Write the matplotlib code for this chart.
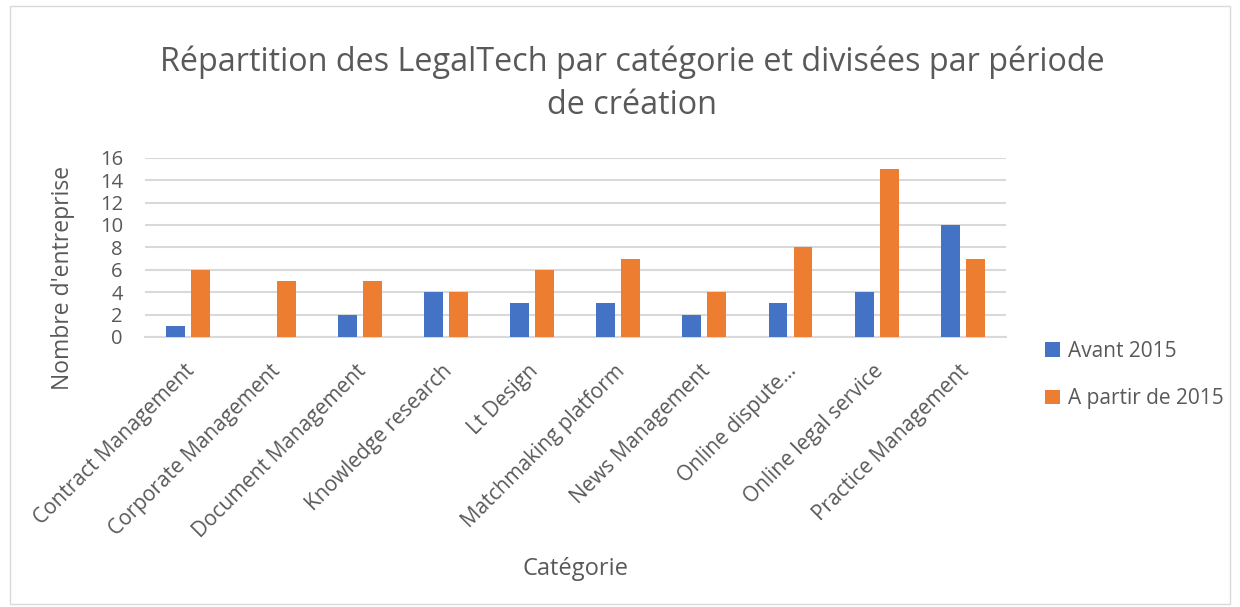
import matplotlib.pyplot as plt
import numpy as np

categories = ['Contract Management', 'Corporate Management', 'Document Management',
              'Knowledge research', 'Lt Design', 'Matchmaking platform',
              'News Management', 'Online dispute…', 'Online legal service',
              'Practice Management']
avant_2015 = [1, 0, 2, 4, 3, 3, 2, 3, 4, 10]
apres_2015 = [6, 5, 5, 4, 6, 7, 4, 8, 15, 7]
yticks = list(range(0, 18, 2))

plt.rcParams['font.family'] = ['Open Sans', 'DejaVu Sans']
grey = '#595959'

fig = plt.figure(figsize=(12.4, 6.07), dpi=100)
ax = fig.add_axes([0.117, 0.445, 0.694, 0.295])

x = np.arange(len(categories))
w = 0.22
ax.bar(x - 0.145, avant_2015, w, color='#4472c4', label='Avant 2015', zorder=3)
ax.bar(x + 0.145, apres_2015, w, color='#ed7d31', label='A partir de 2015', zorder=3)

ax.set_xlim(-0.5, len(categories) - 0.5)
ax.set_ylim(0, 16)
ax.set_yticks(yticks)
ax.set_yticklabels([str(t) for t in yticks], fontsize=14.5, color=grey)
ax.yaxis.grid(True, color='#d9d9d9', linewidth=1.5, zorder=0)
ax.tick_params(axis='both', length=0)
ax.tick_params(axis='y', pad=16)
for s in ['top', 'right', 'left']:
    ax.spines[s].set_visible(False)
ax.spines['bottom'].set_color('#d9d9d9')
ax.spines['bottom'].set_linewidth(1.5)

ax.set_xticks(x - 0.05)
ax.set_xticklabels(categories, rotation=45, ha='right', rotation_mode='anchor',
                   fontsize=15, color=grey)
ax.tick_params(axis='x', pad=17)

fig.text(0.0508, 0.542, "Nombre d'entreprise", fontsize=16.5, color=grey,
         rotation=90, ha='center', va='center')
fig.text(0.464, 0.063, 'Catégorie', fontsize=17, color=grey, ha='center', va='center')
fig.text(0.51, 0.862, 'Répartition des LegalTech par catégorie et divisées par période\nde création',
         fontsize=23.3, color=grey, ha='center', va='center', linespacing=1.4)

leg = fig.legend(loc='upper left', bbox_to_anchor=(0.828, 0.469), frameon=False,
                 fontsize=15, handlelength=0.7, handleheight=0.7, handletextpad=0.4,
                 labelspacing=1.25)
for t in leg.get_texts():
    t.set_color(grey)

fig.patches.append(plt.Rectangle((0.008, 0.005), 0.984, 0.985, transform=fig.transFigure,
                                 fill=False, edgecolor='#d9d9d9', linewidth=1))

fig.savefig('out.png', dpi=100)
